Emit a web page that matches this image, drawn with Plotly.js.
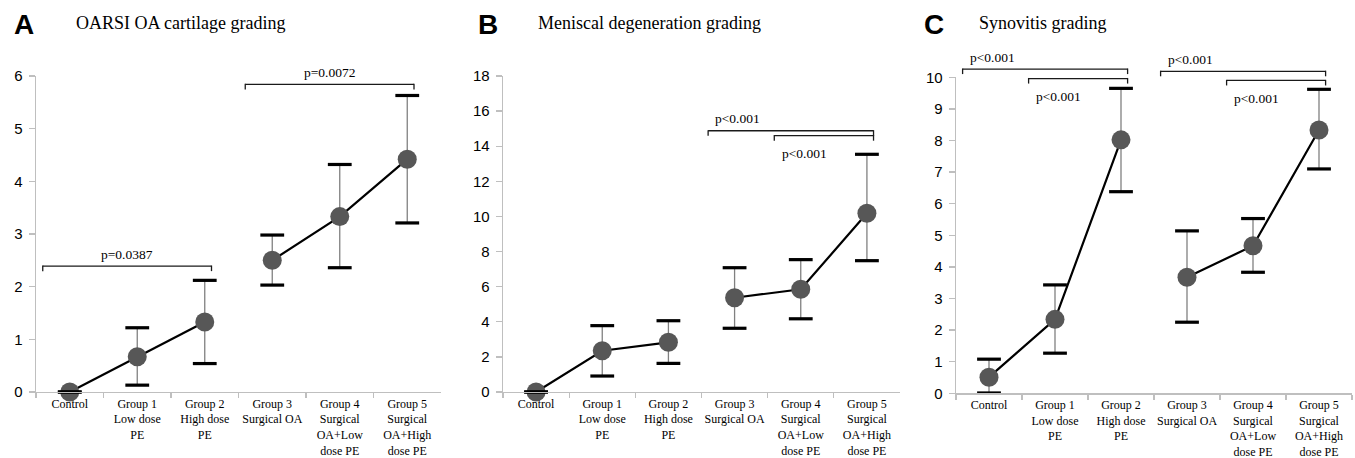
<!DOCTYPE html>
<html>
<head>
<meta charset="utf-8">
<script src="https://cdn.plot.ly/plotly-3.0.1.min.js"></script>
<style>html,body{margin:0;padding:0;background:#fff;}#chart{width:1355px;height:458px;}</style>
</head>
<body>
<div id="chart"></div>
<script>
// ---- data ----
const categories = ["Control", "Group 1<br>Low dose<br>PE", "Group 2<br>High dose<br>PE", "Group 3<br>Surgical OA", "Group 4<br>Surgical<br>OA+Low<br>dose PE", "Group 5<br>Surgical<br>OA+High<br>dose PE"];

const panelLetters = ["A", "B", "C"];
const panelTitles = ["OARSI OA cartilage grading", "Meniscal degeneration grading", "Synovitis grading"];

const oarsiMean  = [0, 0.67, 1.33, 2.50, 3.33, 4.42];
const oarsiPlus  = [0, 0.55, 0.79, 0.48, 0.99, 1.21];
const oarsiMinus = [0, 0.54, 0.79, 0.47, 0.97, 1.21];

const meniscMean  = [0, 2.35, 2.83, 5.37, 5.85, 10.18];
const meniscPlus  = [0, 1.43, 1.23, 1.71, 1.69, 3.36];
const meniscMinus = [0, 1.44, 1.20, 1.74, 1.68, 2.70];

const synovMean  = [0.51, 2.34, 8.02, 3.67, 4.67, 8.33];
const synovPlus  = [0.57, 1.09, 1.63, 1.47, 0.86, 1.29];
const synovMinus = [0.50, 1.07, 1.64, 1.42, 0.84, 1.23];

const yMax = [6, 18, 10];
const yDtick = [1, 2, 1];

// comparisons: [fromIndex, toIndex], p label
const oarsiComparisons  = [[0, 2], [3, 5]];
const oarsiPLabels      = ["p=0.0387", "p=0.0072"];
const meniscComparisons = [[3, 5], [4, 5]];
const meniscPLabels     = ["p<0.001", "p<0.001"];
const synovComparisons  = [[0, 2], [1, 2], [3, 5], [4, 5]];
const synovPLabels      = ["p<0.001", "p<0.001", "p<0.001", "p<0.001"];

// ---- layout / styles ----
const W = 1355, H = 458;
const panelPx = [
  {x0: 36, x1: 441, yTop: 76, yBot: 392},
  {x0: 503, x1: 900, yTop: 76, yBot: 392},
  {x0: 956, x1: 1352, yTop: 77.3, yBot: 393.3}
];
// bracket style per panel: level (data y), text placement
const bracketStyles = [
  [{level: 2.39, text: 'above', align: 'center'}, {level: 5.84, text: 'above', align: 'center'}],
  [{level: 14.88, text: 'above', align: 'start'}, {level: 14.6, text: 'below', align: 'start'}],
  [{level: 10.26, text: 'above', align: 'start'}, {level: 9.96, text: 'below', align: 'start'},
   {level: 10.19, text: 'above', align: 'start'}, {level: 9.90, text: 'below', align: 'start'}]
];
const letterX = [12, 476, 922];
const titleX = [74, 536, 977];

const serif = "Liberation Serif";
const sans = "Liberation Sans";

const panels = [
  {mean: oarsiMean, plus: oarsiPlus, minus: oarsiMinus, comps: oarsiComparisons, labels: oarsiPLabels},
  {mean: meniscMean, plus: meniscPlus, minus: meniscMinus, comps: meniscComparisons, labels: meniscPLabels},
  {mean: synovMean, plus: synovPlus, minus: synovMinus, comps: synovComparisons, labels: synovPLabels}
];

const traces = [];
const layout = {
  width: W, height: H,
  margin: {l: 0, r: 0, t: 0, b: 0},
  paper_bgcolor: '#fff', plot_bgcolor: 'rgba(0,0,0,0)',
  showlegend: false,
  shapes: [], annotations: []
};

panels.forEach((p, k) => {
  const sfx = k === 0 ? '' : String(k + 1);
  const xa = 'x' + sfx, ya = 'y' + sfx;
  const px = panelPx[k];
  const yDom = [(H - px.yBot) / H, (H - px.yTop) / H];
  const toPaperY = v => yDom[0] + (v / yMax[k]) * (yDom[1] - yDom[0]);

  // error stems
  traces.push({
    x: categories, y: p.mean, xaxis: xa, yaxis: ya, type: 'scatter', mode: 'markers',
    marker: {size: 1, color: 'rgba(0,0,0,0)'},
    error_y: {type: 'data', symmetric: false, array: p.plus, arrayminus: p.minus,
              color: '#808080', thickness: 1.3, width: 0},
    cliponaxis: false, hoverinfo: 'skip'
  });
  // connecting lines (two groups)
  [[0, 3], [3, 6]].forEach(([a, b]) => {
    traces.push({
      x: categories.slice(a, b), y: p.mean.slice(a, b), xaxis: xa, yaxis: ya,
      type: 'scatter', mode: 'lines', line: {color: '#000', width: 2.2}, cliponaxis: false
    });
  });
  // markers
  traces.push({
    x: categories, y: p.mean, xaxis: xa, yaxis: ya, type: 'scatter', mode: 'markers',
    marker: {size: 19, color: '#575757'}, cliponaxis: false
  });
  // caps
  const capY = [], capX = [];
  p.mean.forEach((m, i) => {
    capX.push(categories[i], categories[i]);
    capY.push(m + p.plus[i], m - p.minus[i]);
  });
  traces.push({
    x: capX, y: capY, xaxis: xa, yaxis: ya, type: 'scatter', mode: 'markers',
    marker: {symbol: 'line-ew', size: 17, color: '#000', line: {color: '#000', width: 3.2}},
    cliponaxis: false
  });

  layout['xaxis' + sfx] = {
    domain: [px.x0 / W, px.x1 / W], anchor: ya, type: 'category',
    categoryorder: 'array', categoryarray: categories,
    range: [-0.5, 5.5], fixedrange: true,
    showline: true, linecolor: '#bfbfbf', linewidth: 1.3,
    ticks: 'outside', tickson: 'boundaries', ticklen: 5, tickcolor: '#bfbfbf', tickwidth: 1.3,
    tickfont: {family: serif, size: 12, color: '#000'}, tickangle: 0,
    showgrid: false, zeroline: false
  };
  layout['yaxis' + sfx] = {
    domain: yDom, anchor: xa, range: [0, yMax[k]], dtick: yDtick[k], tick0: 0,
    showline: true, linecolor: '#bfbfbf', linewidth: 1.3,
    ticks: 'outside', ticklen: 6, tickcolor: '#bfbfbf', tickwidth: 1.3,
    tickfont: {family: sans, size: 15, color: '#000'}, ticklabelstandoff: 3,
    showgrid: false, zeroline: false, fixedrange: true
  };

  // letter and title
  layout.annotations.push({
    xref: 'paper', yref: 'paper', x: letterX[k] / W, y: 1 - 24 / H, xanchor: 'left', yanchor: 'middle',
    text: '<b>' + panelLetters[k] + '</b>', showarrow: false,
    font: {family: sans, size: 28, color: '#000'}
  });
  layout.annotations.push({
    xref: 'paper', yref: 'paper', x: titleX[k] / W, y: 1 - 23 / H, xanchor: 'left', yanchor: 'middle',
    text: panelTitles[k], showarrow: false,
    font: {family: serif, size: 18, color: '#000'}
  });

  // brackets
  p.comps.forEach(([i0, i1], j) => {
    const st = bracketStyles[k][j];
    const xs = i0 - 0.4, xe = i1 + 0.1;
    const yp = toPaperY(st.level);
    const lineStyle = {color: '#1a1a1a', width: 1.3};
    layout.shapes.push({type: 'line', xref: xa, yref: 'paper', x0: xs, x1: xe, y0: yp, y1: yp, line: lineStyle});
    [xs, xe].forEach(xv => {
      layout.shapes.push({type: 'line', xref: xa, yref: 'paper', ysizemode: 'pixel', yanchor: yp,
        x0: xv, x1: xv, y0: 0.6, y1: -5, line: lineStyle});
    });
    const tx = st.align === 'center' ? (xs + xe) / 2 : i0 + 0.05;
    layout.annotations.push({
      xref: xa, yref: 'paper', x: tx, y: yp,
      yshift: st.text === 'above' ? 12 : -18,
      xanchor: 'center', yanchor: 'middle', showarrow: false,
      text: p.labels[j], font: {family: serif, size: 13.5, color: '#000'}
    });
  });
});

Plotly.newPlot('chart', traces, layout, {displayModeBar: false, staticPlot: true});
</script>
</body>
</html>
